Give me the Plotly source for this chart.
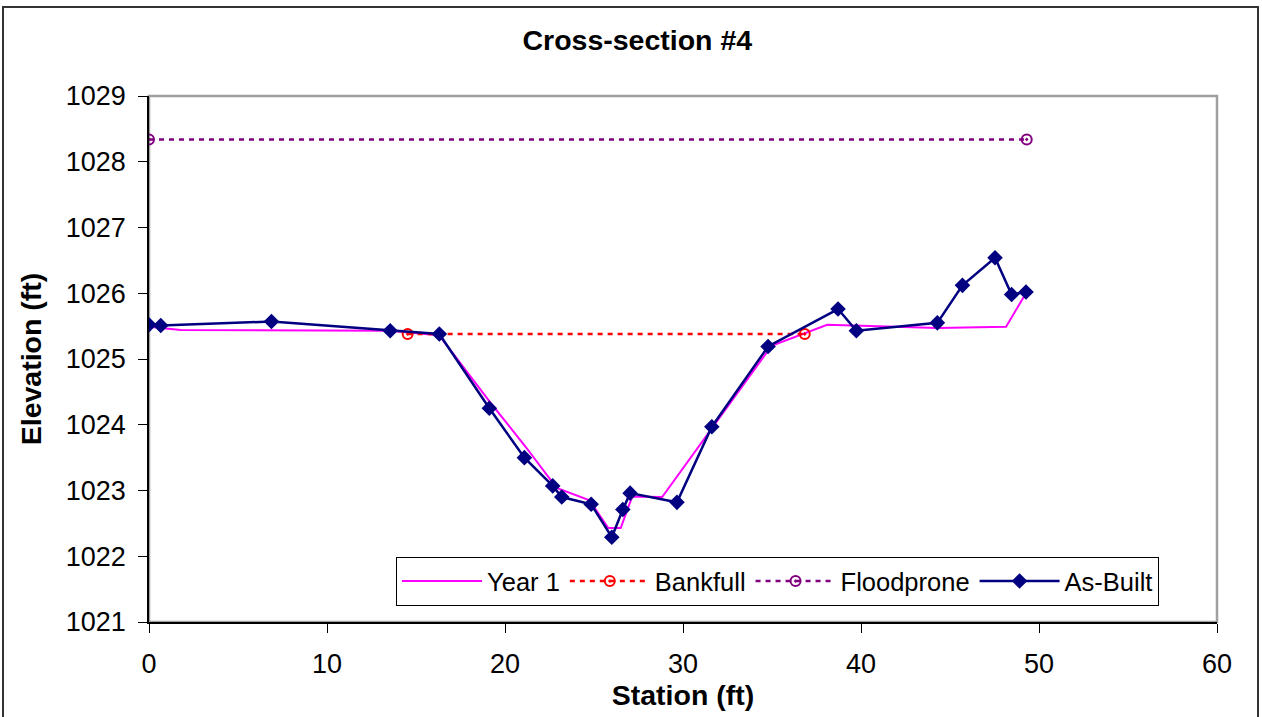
import plotly.graph_objects as go

# As-Built survey
asbuilt_x = [0, 0.66, 6.88, 13.55, 16.31, 19.12, 21.09, 22.68, 23.19, 24.84, 26.0, 26.62,
             27.03, 29.66, 31.62, 34.78, 38.71, 39.74, 44.29, 45.70, 47.53, 48.46, 49.27]
asbuilt_y = [1025.52, 1025.51, 1025.57, 1025.43, 1025.38, 1024.25, 1023.50, 1023.07, 1022.90,
             1022.79, 1022.29, 1022.71, 1022.96, 1022.82, 1023.97, 1025.19, 1025.76, 1025.43,
             1025.55, 1026.12, 1026.54, 1025.98, 1026.02]

# Year 1 survey
year1_x = [0, 1.78, 13.5, 16.3, 19.2, 21.2, 22.9, 24.75, 25.8, 26.5, 27.15, 28.83,
           34.97, 38.1, 44.3, 48.15, 49.2]
year1_y = [1025.49, 1025.44, 1025.43, 1025.36, 1024.33, 1023.65, 1023.04, 1022.85, 1022.43,
           1022.43, 1022.91, 1022.90, 1025.2, 1025.52, 1025.47, 1025.49, 1025.97]

bankfull_x = [14.53, 36.84]
bankfull_y = [1025.38, 1025.38]

floodprone_x = [0, 49.31]
floodprone_y = [1028.34, 1028.34]

x_ticks = [0, 10, 20, 30, 40, 50, 60]
y_ticks = [1021, 1022, 1023, 1024, 1025, 1026, 1027, 1028, 1029]

FONT = "Liberation Sans, Arial, sans-serif"

fig = go.Figure()
fig.add_trace(go.Scatter(x=year1_x, y=year1_y, mode="lines", name="Year 1",
                         line=dict(color="#FF00FF", width=2)))
fig.add_trace(go.Scatter(x=bankfull_x, y=bankfull_y, mode="lines+markers", name="Bankfull",
                         line=dict(color="#FF0000", width=2.5, dash="5px,5px"),
                         marker=dict(symbol="circle-open-dot", size=10, color="#FF0000",
                                     line=dict(width=2))))
fig.add_trace(go.Scatter(x=floodprone_x, y=floodprone_y, mode="lines+markers", name="Floodprone",
                         line=dict(color="#800080", width=2.5, dash="5px,5px"),
                         marker=dict(symbol="circle-open-dot", size=10, color="#800080",
                                     line=dict(width=2))))
fig.add_trace(go.Scatter(x=asbuilt_x, y=asbuilt_y, mode="lines+markers", name="As-Built",
                         line=dict(color="#000080", width=2.5),
                         marker=dict(symbol="diamond", size=12, color="#000080")))

fig.update_layout(
    width=1262, height=717,
    margin=dict(l=149, r=45, t=96, b=95),
    paper_bgcolor="white", plot_bgcolor="white",
    font=dict(family=FONT, color="black"),
    title=dict(text="<b>Cross-section #4</b>", x=0.505, xanchor="center",
               y=1 - 40 / 717, yanchor="middle", font=dict(size=28.5, family=FONT, color="black")),
    showlegend=True,
    legend=dict(orientation="h", x=0.2313, xanchor="left", y=0.1236, yanchor="top",
                bordercolor="black", borderwidth=1, bgcolor="white",
                font=dict(size=25.5, family=FONT, color="black"),
                itemwidth=80, tracegroupgap=0),
    xaxis=dict(range=[0, 60], tickvals=x_ticks, ticks="outside", ticklen=9, tickwidth=1,
               tickcolor="black", showline=True, linecolor="black", linewidth=1.5,
               showgrid=False, zeroline=False, tickfont=dict(size=27, family=FONT),
               ticklabelstandoff=8,
               title=dict(text="<b>Station (ft)</b>", font=dict(size=28.5, family=FONT), standoff=0)),
    yaxis=dict(range=[1021, 1029], tickvals=y_ticks, ticks="outside", ticklen=9, tickwidth=1,
               tickcolor="black", showline=True, linecolor="black", linewidth=1.5,
               showgrid=False, zeroline=False, tickfont=dict(size=27, family=FONT),
               ticklabelstandoff=7,
               title=dict(text="<b>Elevation (ft)</b>", font=dict(size=28.5, family=FONT), standoff=16)),
    shapes=[
        dict(type="rect", xref="paper", yref="paper", x0=0, x1=1, y0=0, y1=1,
             line=dict(color="#a0a0a0", width=2.5), layer="below"),
        dict(type="rect", xref="paper", yref="paper", x0=-0.1367, x1=1.0384, y0=-0.3, y1=1.1692,
             line=dict(color="#333333", width=2), layer="below"),
    ],
)

fig.write_html("out.html", config={"displayModeBar": False},
               post_script="document.body.style.margin='0';")
